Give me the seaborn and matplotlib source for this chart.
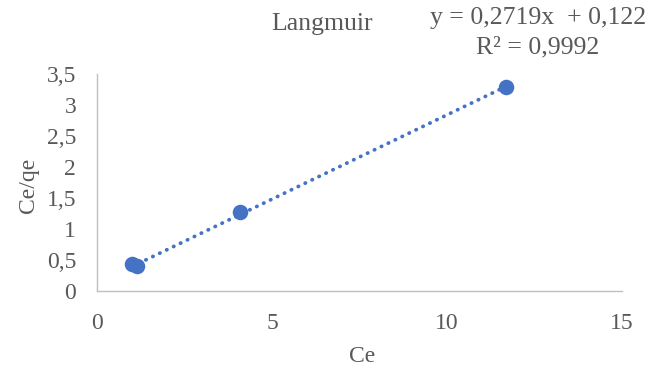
import matplotlib
matplotlib.use("Agg")
import matplotlib.pyplot as plt
import numpy as np
import pandas as pd
import seaborn as sns

# Langmuir linearisation data
ce = [1.0, 1.15, 4.1, 11.7]
ce_qe = [0.43, 0.40, 1.27, 3.29]

# Linear trendline coefficients
slope = 0.2719
intercept = 0.122
r2 = 0.9992

x_ticks = [0, 5, 10, 15]
y_ticks = [0, 0.5, 1, 1.5, 2, 2.5, 3, 3.5]

sns.set_style("white")
plt.rcParams["font.family"] = ["Liberation Serif", "DejaVu Serif"]

text_color = "#595959"
blue = "#4472C4"

fig = plt.figure(figsize=(6.62, 3.74), dpi=100)
ax = fig.add_axes([0.1465, 0.222, 0.793, 0.58])

df = pd.DataFrame({"Ce": ce, "Ce/qe": ce_qe})
fit_x = np.array([min(ce), max(ce)])
fit = pd.DataFrame({"Ce": fit_x, "fit": slope * fit_x + intercept})

sns.lineplot(data=fit, x="Ce", y="fit", ax=ax, color=blue, lw=2.7,
             linestyle=(0, (0.1, 1.95)), dash_capstyle="round", zorder=2)
sns.scatterplot(data=df, x="Ce", y="Ce/qe", ax=ax, color=blue, s=125,
                edgecolor=blue, linewidth=0, zorder=3)

ax.set_xlim(0, 15)
ax.set_ylim(0, 3.5)
ax.set_xticks(x_ticks)
ax.set_yticks(y_ticks)
ax.set_xticklabels([str(v) for v in x_ticks])
ax.set_yticklabels([("%g" % v).replace(".", ",") for v in y_ticks])
ax.tick_params(axis="both", length=0, labelsize=17, colors=text_color)
ax.tick_params(axis="y", pad=15)
ax.tick_params(axis="x", pad=16)

for side in ["top", "right"]:
    ax.spines[side].set_visible(False)
for side in ["left", "bottom"]:
    ax.spines[side].set_color("#bfbfbf")
    ax.spines[side].set_linewidth(1.0)

ax.set_xlabel("Ce", fontsize=17, color=text_color)
ax.set_ylabel("Ce/qe", fontsize=17, color=text_color)
ax.xaxis.set_label_coords(362 / 662, 1 - 356 / 374, transform=fig.transFigure)
ax.yaxis.set_label_coords(28 / 662, 1 - 185 / 374, transform=fig.transFigure)
ax.xaxis.label.set_va("center")
ax.yaxis.label.set_va("center")

fig.text(322 / 662, 1 - 24 / 374, "Langmuir", ha="center", va="center",
         fontsize=18.5, color=text_color)
fig.text(538 / 662, 1 - 18 / 374, "y = 0,2719x  + 0,122", ha="center", va="center",
         fontsize=18.5, color=text_color)
fig.text(538 / 662, 1 - 47 / 374, "R² = " + ("%g" % r2).replace(".", ","), ha="center",
         va="center", fontsize=18.5, color=text_color)

fig.savefig("out.png", dpi=100)
